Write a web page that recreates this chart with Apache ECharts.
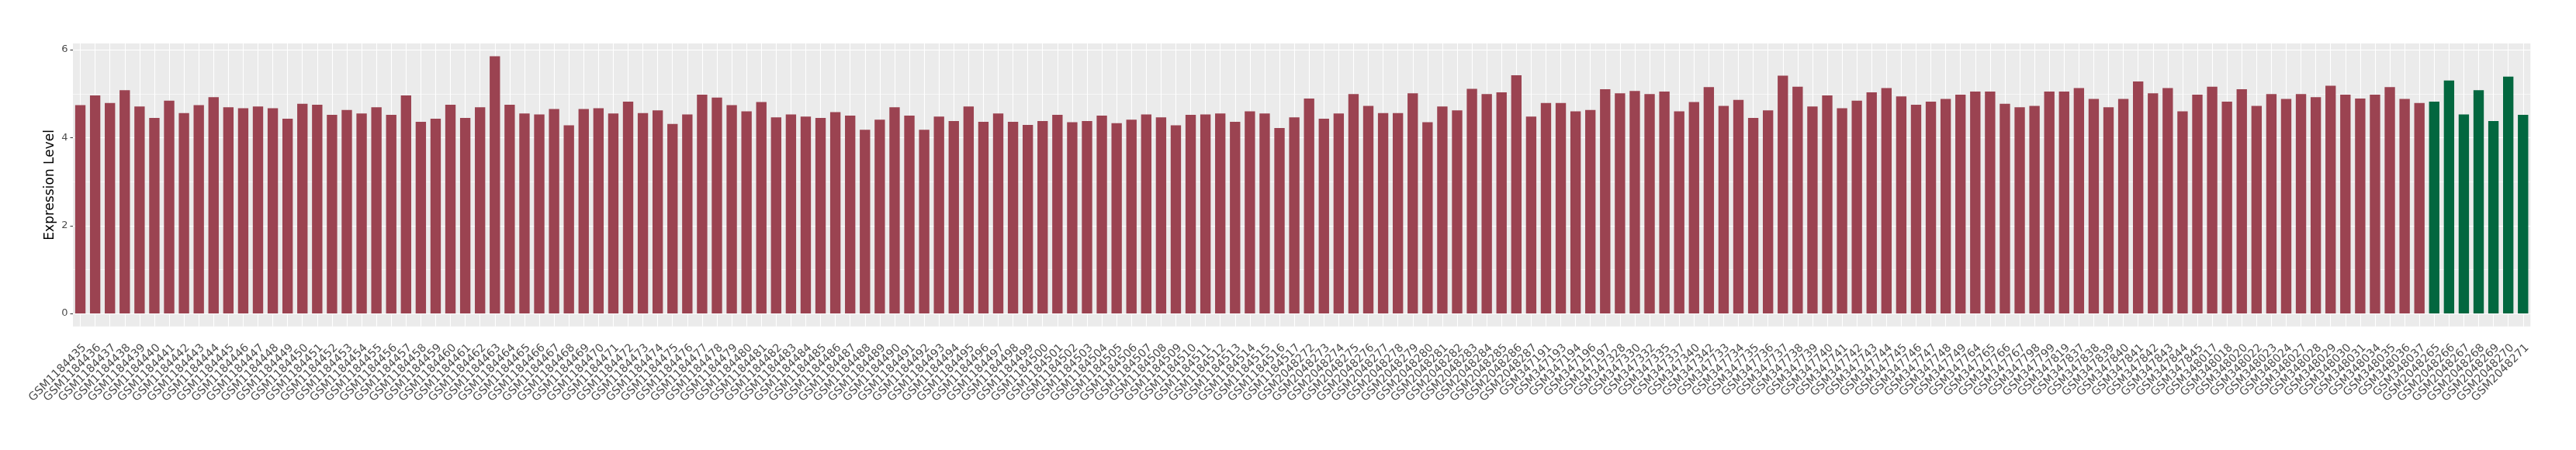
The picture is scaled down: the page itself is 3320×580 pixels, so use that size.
<!DOCTYPE html>
<html><head><meta charset="utf-8">
<script src="https://cdn.jsdelivr.net/npm/echarts@6/dist/echarts.min.js"></script>
<style>html,body{margin:0;padding:0;background:#fff}#c{width:3320px;height:580px}</style>
</head><body><div id="c"></div>
<script>
// ---- data ----
const groupASamples = [
 'GSM1184435','GSM1184436','GSM1184437','GSM1184438','GSM1184439','GSM1184440','GSM1184441','GSM1184442','GSM1184443','GSM1184444',
 'GSM1184445','GSM1184446','GSM1184447','GSM1184448','GSM1184449','GSM1184450','GSM1184451','GSM1184452','GSM1184453','GSM1184454',
 'GSM1184455','GSM1184456','GSM1184457','GSM1184458','GSM1184459','GSM1184460','GSM1184461','GSM1184462','GSM1184463','GSM1184464',
 'GSM1184465','GSM1184466','GSM1184467','GSM1184468','GSM1184469','GSM1184470','GSM1184471','GSM1184472','GSM1184473','GSM1184474',
 'GSM1184475','GSM1184476','GSM1184477','GSM1184478','GSM1184479','GSM1184480','GSM1184481','GSM1184482','GSM1184483','GSM1184484',
 'GSM1184485','GSM1184486','GSM1184487','GSM1184488','GSM1184489','GSM1184490','GSM1184491','GSM1184492','GSM1184493','GSM1184494',
 'GSM1184495','GSM1184496','GSM1184497','GSM1184498','GSM1184499','GSM1184500','GSM1184501','GSM1184502','GSM1184503','GSM1184504',
 'GSM1184505','GSM1184506','GSM1184507','GSM1184508','GSM1184509','GSM1184510','GSM1184511','GSM1184512','GSM1184513','GSM1184514',
 'GSM1184515','GSM1184516','GSM1184517',
 'GSM2048272','GSM2048273','GSM2048274','GSM2048275','GSM2048276','GSM2048277','GSM2048278','GSM2048279','GSM2048280','GSM2048281',
 'GSM2048282','GSM2048283','GSM2048284','GSM2048285','GSM2048286','GSM2048287',
 'GSM347191','GSM347193','GSM347194','GSM347196','GSM347197','GSM347328','GSM347330','GSM347332','GSM347335','GSM347337',
 'GSM347340','GSM347342','GSM347733','GSM347734','GSM347735','GSM347736','GSM347737','GSM347738','GSM347739','GSM347740',
 'GSM347741','GSM347742','GSM347743','GSM347744','GSM347745','GSM347746','GSM347747','GSM347748','GSM347749','GSM347764',
 'GSM347765','GSM347766','GSM347767','GSM347798','GSM347799','GSM347819','GSM347837','GSM347838','GSM347839','GSM347840',
 'GSM347841','GSM347842','GSM347843','GSM347844','GSM347845','GSM348017','GSM348018','GSM348020','GSM348022','GSM348023',
 'GSM348024','GSM348027','GSM348028','GSM348029','GSM348030','GSM348031','GSM348034','GSM348035','GSM348036','GSM348037'
];
const groupAValues = [
 4.74,4.96,4.79,5.08,4.71,4.45,4.84,4.56,4.74,4.92,
 4.69,4.67,4.71,4.67,4.43,4.77,4.75,4.52,4.63,4.55,
 4.69,4.52,4.96,4.36,4.43,4.75,4.45,4.69,5.85,4.75,
 4.55,4.53,4.65,4.28,4.65,4.67,4.55,4.82,4.56,4.62,
 4.31,4.53,4.98,4.91,4.74,4.60,4.81,4.46,4.53,4.48,
 4.45,4.58,4.50,4.18,4.41,4.69,4.50,4.18,4.48,4.38,
 4.71,4.36,4.55,4.36,4.29,4.38,4.52,4.35,4.38,4.50,
 4.33,4.41,4.53,4.46,4.28,4.52,4.53,4.55,4.36,4.60,
 4.55,4.22,4.46,
 4.89,4.43,4.55,4.99,4.72,4.56,4.56,5.01,4.35,4.71,
 4.62,5.11,4.99,5.03,5.42,4.48,
 4.79,4.79,4.60,4.63,5.10,5.01,5.06,4.99,5.05,4.60,
 4.81,5.15,4.72,4.86,4.45,4.62,5.41,5.16,4.71,4.96,
 4.67,4.84,5.03,5.13,4.94,4.75,4.82,4.88,4.98,5.05,
 5.05,4.77,4.69,4.72,5.05,5.05,5.13,4.88,4.69,4.88,
 5.28,5.01,5.13,4.60,4.98,5.16,4.82,5.10,4.72,4.99,
 4.88,4.99,4.92,5.18,4.98,4.89,4.98,5.15,4.88,4.79
];
const groupBSamples = ['GSM2048265','GSM2048266','GSM2048267','GSM2048268','GSM2048269','GSM2048270','GSM2048271'];
const groupBValues = [4.82,5.30,4.53,5.08,4.38,5.39,4.52];
const yTickValues = [0, 2, 4, 6];
const yMinorValues = [1, 3, 5];
const yAxisTitle = 'Expression Level';

// ---- styles ----
const colorA = '#9B4351', colorB = '#02673F';
const FONT = "'DejaVu Sans', sans-serif";

const categories = groupASamples.concat(groupBSamples);
const allValues = groupAValues.concat(groupBValues);
const barData = groupAValues.map(v => ({ value: v, itemStyle: { color: colorA } }))
  .concat(groupBValues.map(v => ({ value: v, itemStyle: { color: colorB } })));
const vmax = Math.max.apply(null, allValues);
const yMin = -0.05 * vmax, yMax = 1.05 * vmax;

const gridLines = []
  .concat(yMinorValues.map(v => ({ yAxis: v, lineStyle: { width: 0.6, color: '#fff', type: 'solid' } })))
  .concat(yTickValues.map(v => ({ yAxis: v, lineStyle: { width: 1.2, color: '#fff', type: 'solid' } })))
  .concat(categories.map(c => ({ xAxis: c, lineStyle: { width: 1.1, color: '#fff', type: 'solid' } })));

const chart = echarts.init(document.getElementById('c'), null, { renderer: 'canvas' });
chart.setOption({
  animation: false,
  grid: {
    left: 94, right: 58.7, top: 56, bottom: 159.3,
    show: true, backgroundColor: '#EBEBEB', borderWidth: 0,
    containLabel: false, outerBoundsMode: 'none'
  },
  xAxis: {
    type: 'category', data: categories, boundaryGap: true,
    axisLine: { show: false },
    axisTick: { show: true, alignWithLabel: true, interval: 0, length: 3.5, lineStyle: { color: '#333', width: 1 } },
    axisLabel: {
      interval: 0, rotate: 45, hideOverlap: false,
      fontFamily: FONT, fontSize: 14.5, color: '#4D4D4D',
      margin: 20, verticalAlign: 'top', align: 'right'
    },
    splitLine: { show: false }
  },
  yAxis: {
    type: 'value', min: yMin, max: yMax,
    name: yAxisTitle, nameLocation: 'middle', nameGap: 21, nameMoveOverlap: false,
    nameTextStyle: { fontFamily: FONT, fontSize: 17, color: '#000' },
    axisLine: { show: false },
    axisTick: { show: true, customValues: yTickValues, length: 3.5, lineStyle: { color: '#333', width: 1 } },
    axisLabel: { customValues: yTickValues, fontFamily: FONT, fontSize: 13, color: '#4D4D4D', margin: 6.5 },
    splitLine: { show: false }
  },
  series: [{
    type: 'bar', data: barData, barWidth: '70%', z: 2,
    markLine: {
      silent: true, z: 1, symbol: ['none', 'none'], label: { show: false },
      emphasis: { disabled: true }, animation: false,
      data: gridLines
    }
  }]
});
</script></body></html>
